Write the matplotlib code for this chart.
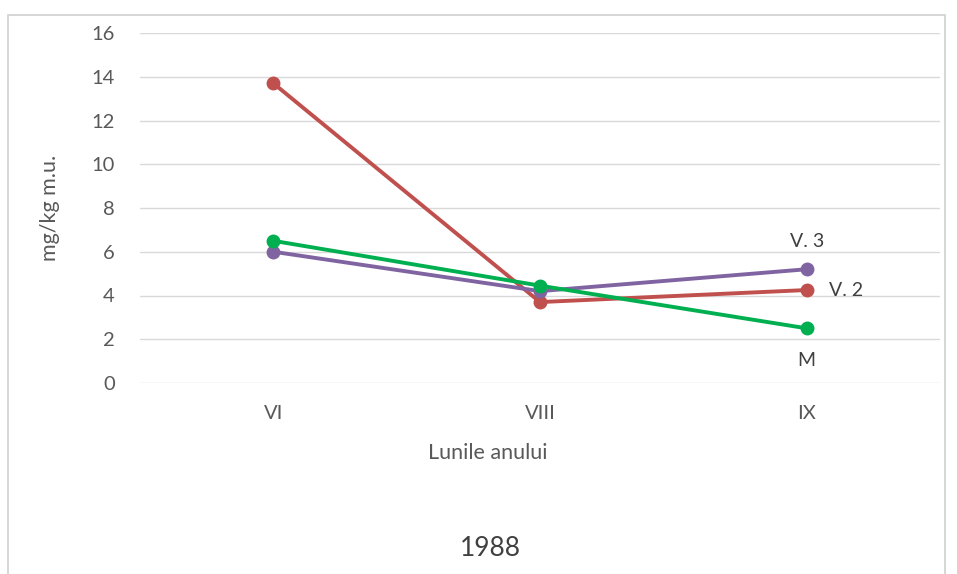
import matplotlib
matplotlib.use("Agg")
import matplotlib.pyplot as plt
from matplotlib.patches import Rectangle

plt.rcParams['font.family'] = ['Lato', 'DejaVu Sans']

months = ["VI", "VIII", "IX"]
v2 = [13.7, 3.7, 4.25]
v3 = [6.0, 4.2, 5.2]
m = [6.5, 4.45, 2.5]

colors = ["#C0504D", "#8064A2", "#00B050"]

fig = plt.figure(figsize=(9.57, 5.74), dpi=100)
fig.patches.append(Rectangle((8 / 957, -0.01), (945 - 8) / 957, 1 - 15 / 574 + 0.01,
                             transform=fig.transFigure, fill=False,
                             edgecolor="#D0D0D0", linewidth=1.2))

ax = fig.add_axes([140 / 957, 1 - 383 / 574, 800 / 957, 350 / 574])
x = list(range(len(months)))
for vals, c in zip([v2, v3, m], colors):
    ax.plot(x, vals, color=c, linewidth=2.8, marker="o", markersize=9,
            solid_capstyle="round")

ax.set_xlim(-0.5, 2.5)
ax.set_ylim(0, 16)
ax.set_yticks(range(0, 17, 2))
ax.set_xticks(x)
ax.set_xticklabels(months)
ax.grid(axis="y", color="#D9D9D9", linewidth=1.0)
ax.set_axisbelow(True)
for s in ax.spines.values():
    s.set_visible(False)
ax.tick_params(length=0, labelsize=14.5, colors="#595959", pad=18)
ax.tick_params(axis="x", pad=16)

ax.set_ylabel("mg/kg m.u.", fontsize=15.5, color="#595959")
ax.yaxis.set_label_coords(-(140 - 60) / 800, 0.5)
ax.set_xlabel("Lunile anului", fontsize=15.5, color="#595959", va="center")
ax.xaxis.set_label_coords((488 - 140) / 800, -(453 - 383) / 350)

# series names beside the last points
ax.annotate("V. 3", (2, v3[2]), xytext=(0, 14), textcoords="offset points",
            ha="center", va="bottom", fontsize=14, color="#404040")
ax.annotate("V. 2", (2, v2[2]), xytext=(16, 0), textcoords="offset points",
            ha="left", va="center", fontsize=14, color="#404040")
ax.annotate("M", (2, m[2]), xytext=(0, -17), textcoords="offset points",
            ha="center", va="top", fontsize=14, color="#404040")

fig.text(490 / 957, 1 - 548 / 574, "1988", ha="center", va="center",
         fontsize=19, color="#404040")

fig.savefig("out.png", dpi=100)
